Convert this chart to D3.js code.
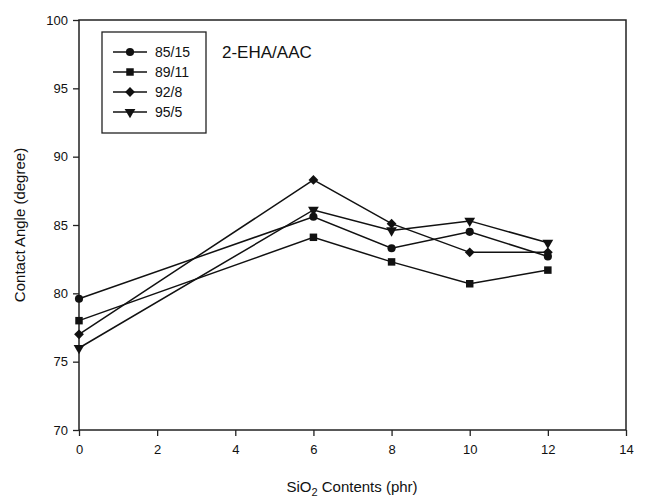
<!DOCTYPE html>
<html>
<head>
<meta charset="utf-8">
<script src="https://d3js.org/d3.v7.min.js"></script>
<style>
  body { margin: 0; background: #fff; }
  svg text { font-family: "Liberation Sans", Arial, sans-serif; fill: #111; }
</style>
</head>
<body>
<svg id="chart" width="648" height="498"></svg>
<script>
// data
var xvals = [0, 6, 8, 10, 12]
var s85_15 = [79.6, 85.6, 83.3, 84.5, 82.7]
var s89_11 = [78.0, 84.1, 82.3, 80.7, 81.7]
var s92_8 = [77.0, 88.3, 85.1, 83.0, 83.0]
var s95_5 = [76.0, 86.1, 84.6, 85.3, 83.7]
var names = ['85/15', '89/11', '92/8', '95/5']
var xticks = [0, 2, 4, 6, 8, 10, 12, 14]
var yticks = [70, 75, 80, 85, 90, 95, 100]

var series = [
  {name: names[0], vals: s85_15, sym: d3.symbolCircle, size: 52, rot: 0},
  {name: names[1], vals: s89_11, sym: d3.symbolSquare, size: 56, rot: 0},
  {name: names[2], vals: s92_8, sym: d3.symbolSquare, size: 48, rot: 45},
  {name: names[3], vals: s95_5, sym: d3.symbolTriangle, size: 50, rot: 180}
]

var svg = d3.select('#chart')
var pL = 79, pR = 626, pT = 20, pB = 430

var x = d3.scaleLinear().domain([0, 14]).range([pL, pR])
var y = d3.scaleLinear().domain([70, 100]).range([pB, pT])

// frame
svg.append('rect')
  .attr('x', pL).attr('y', pT)
  .attr('width', pR - pL).attr('height', pB - pT)
  .attr('fill', 'none').attr('stroke', '#222').attr('stroke-width', 1.5)

var xAxis = svg.append('g').attr('transform', 'translate(0,' + pB + ')')
  .call(d3.axisBottom(x).tickValues(xticks).tickSize(6).tickPadding(9).tickFormat(d3.format('d')))
var yAxis = svg.append('g').attr('transform', 'translate(' + pL + ',0)')
  .call(d3.axisLeft(y).tickValues(yticks).tickSize(6).tickPadding(5).tickFormat(d3.format('d')))
svg.selectAll('.domain').remove()
svg.selectAll('.tick line').attr('stroke', '#222').attr('stroke-width', 1.3)
svg.selectAll('.tick text').style('font-size', '13px').attr('fill', '#111')

var line = d3.line().x(function(d, i){ return x(xvals[i]) }).y(function(d){ return y(d) })

series.forEach(function(s){
  svg.append('path').datum(s.vals)
    .attr('d', line)
    .attr('fill', 'none').attr('stroke', '#111').attr('stroke-width', 1.5)
  svg.selectAll(null).data(s.vals).enter().append('path')
    .attr('d', d3.symbol().type(s.sym).size(s.size))
    .attr('transform', function(d, i){
      return 'translate(' + x(xvals[i]) + ',' + y(d) + ') rotate(' + s.rot + ')'
    })
    .attr('fill', '#111')
})

// legend
var lg = svg.append('g')
lg.append('rect').attr('x', 102).attr('y', 32).attr('width', 104).attr('height', 101)
  .attr('fill', 'none').attr('stroke', '#222').attr('stroke-width', 1.3)
series.forEach(function(s, i){
  var ly = 52 + i * 20
  lg.append('line').attr('x1', 113).attr('x2', 147).attr('y1', ly).attr('y2', ly)
    .attr('stroke', '#111').attr('stroke-width', 1.5)
  lg.append('path').attr('d', d3.symbol().type(s.sym).size(s.size))
    .attr('transform', 'translate(130,' + ly + ') rotate(' + s.rot + ')')
    .attr('fill', '#111')
  lg.append('text').attr('x', 155).attr('y', ly + 5).text(s.name).style('font-size', '14px')
})

svg.append('text').attr('x', 222).attr('y', 58).text('2-EHA/AAC').style('font-size', '17px')

// axis titles
var xt = svg.append('text').attr('x', 352).attr('y', 492).attr('text-anchor', 'middle').style('font-size', '15px')
xt.append('tspan').text('SiO')
xt.append('tspan').text('2').attr('dy', 4).style('font-size', '11px')
xt.append('tspan').text(' Contents (phr)').attr('dy', -4)

svg.append('text').attr('transform', 'translate(25,225) rotate(-90)')
  .attr('text-anchor', 'middle').style('font-size', '15px').text('Contact Angle (degree)')
</script>
</body>
</html>
